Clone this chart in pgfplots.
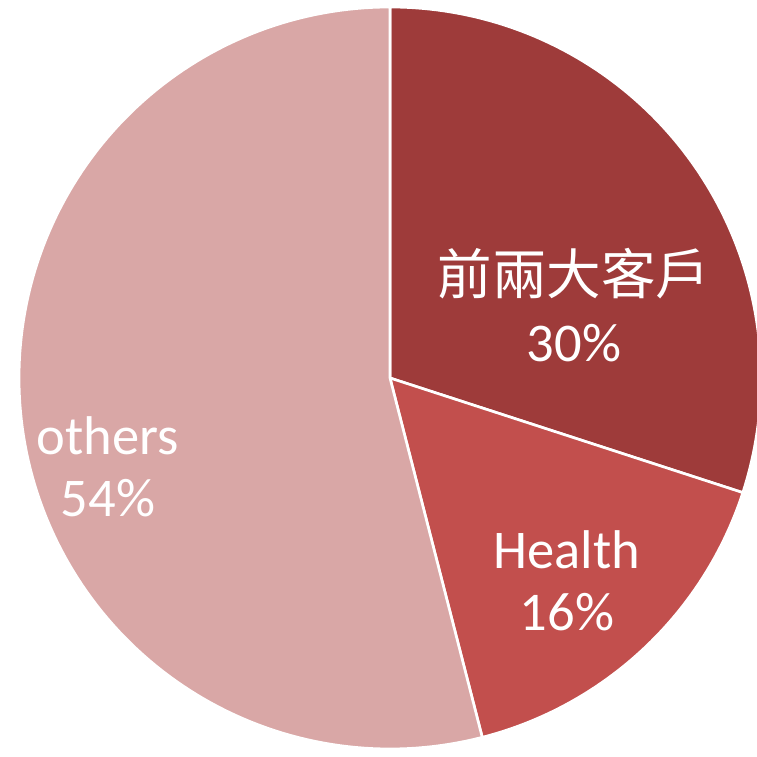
\documentclass[border=0pt]{standalone}
\usepackage{fontspec}
\setmainfont{Carlito}
\newfontfamily\cjk{Noto Sans CJK TC}
\usepackage{pgfplots}
\pgfplotsset{compat=1.18}
\definecolor{cA}{HTML}{9E3B3A}
\definecolor{cB}{HTML}{C24F4D}
\definecolor{cC}{HTML}{D9A7A6}
\begin{document}
\begin{tikzpicture}
\pgfmathsetmacro{\va}{30}
\pgfmathsetmacro{\vb}{16}
\pgfmathsetmacro{\vc}{54}
\pgfmathsetmacro{\aA}{90}
\pgfmathsetmacro{\aB}{\aA-3.6*\va}
\pgfmathsetmacro{\aC}{\aB-3.6*\vb}
\pgfmathsetmacro{\aD}{\aC-3.6*\vc}
\begin{axis}[hide axis, scale only axis, width=10cm, height=10cm,
  xmin=0, xmax=757, ymin=0, ymax=757, clip=true, name=pie]
\addplot[fill=cA, draw=white, line width=1pt, domain=\aB:\aA, samples=90, variable=\t]
  ({390+371*cos(t)},{379+371*sin(t)}) -- (axis cs:390,379) -- cycle;
\addplot[fill=cB, draw=white, line width=1pt, domain=\aC:\aB, samples=60, variable=\t]
  ({390+371*cos(t)},{379+371*sin(t)}) -- (axis cs:390,379) -- cycle;
\addplot[fill=cC, draw=white, line width=1pt, domain=\aD:\aC, samples=150, variable=\t]
  ({390+371*cos(t)},{379+371*sin(t)}) -- (axis cs:390,379) -- cycle;
\node[white, align=center, font=\fontsize{20.5}{25.5}\selectfont] at (axis cs:574,452) {{\cjk 前兩大客戶}\\30\%};
\node[white, align=center, font=\fontsize{20.5}{23.5}\selectfont] at (axis cs:567,176) {Health\\16\%};
\node[white, align=center, font=\fontsize{20.5}{23.5}\selectfont] at (axis cs:108,290) {others\\54\%};
\end{axis}
\pgfresetboundingbox
\path[use as bounding box] (pie.south west) rectangle (pie.north east);
\end{tikzpicture}
\end{document}
